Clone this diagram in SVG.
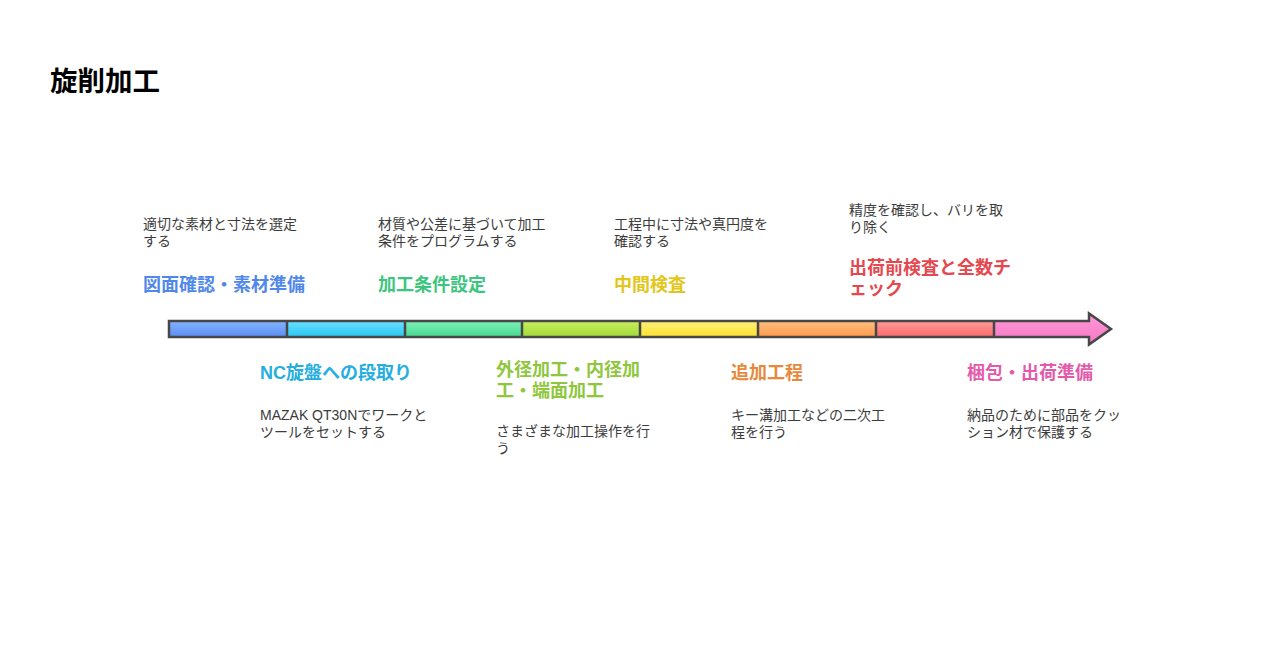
<svg xmlns="http://www.w3.org/2000/svg" width="1280" height="648" viewBox="0 0 1280 648">
<defs>
<linearGradient id="gBlue" x1="0" y1="0" x2="0" y2="1"><stop offset="0" stop-color="#86b3ff"/><stop offset="1" stop-color="#5a8ef5"/></linearGradient>
<linearGradient id="gCyan" x1="0" y1="0" x2="0" y2="1"><stop offset="0" stop-color="#6ae0ff"/><stop offset="1" stop-color="#28c6f2"/></linearGradient>
<linearGradient id="gGreen" x1="0" y1="0" x2="0" y2="1"><stop offset="0" stop-color="#7ef0b8"/><stop offset="1" stop-color="#45d98f"/></linearGradient>
<linearGradient id="gLime" x1="0" y1="0" x2="0" y2="1"><stop offset="0" stop-color="#c8ee5e"/><stop offset="1" stop-color="#a2d93a"/></linearGradient>
<linearGradient id="gYellow" x1="0" y1="0" x2="0" y2="1"><stop offset="0" stop-color="#fff07a"/><stop offset="1" stop-color="#fde22e"/></linearGradient>
<linearGradient id="gOrange" x1="0" y1="0" x2="0" y2="1"><stop offset="0" stop-color="#ffbf80"/><stop offset="1" stop-color="#ff9a4a"/></linearGradient>
<linearGradient id="gRed" x1="0" y1="0" x2="0" y2="1"><stop offset="0" stop-color="#ff9a9a"/><stop offset="1" stop-color="#fb6b6b"/></linearGradient>
<linearGradient id="gPink" x1="0" y1="0" x2="0" y2="1"><stop offset="0" stop-color="#ff9ad8"/><stop offset="1" stop-color="#f477c4"/></linearGradient>
<style>
text{font-family:"Liberation Sans","Noto Sans CJK JP",sans-serif;}
.desc{font-size:14px;fill:#3c3c3c;}
.ttl{font-size:18px;font-weight:bold;}
.main{font-size:27.5px;font-weight:bold;fill:#000;}
.sep{stroke:#474747;stroke-width:2.5;}
</style>
</defs>
<rect width="1280" height="648" fill="#fff"/>
<text class="main" x="50" y="91">旋削加工</text>

<g id="connectors">
<rect x="169" y="321" width="118" height="16" fill="url(#gBlue)"/>
<rect x="287" y="321" width="118" height="16" fill="url(#gCyan)"/>
<rect x="405" y="321" width="117" height="16" fill="url(#gGreen)"/>
<rect x="522" y="321" width="118" height="16" fill="url(#gLime)"/>
<rect x="640" y="321" width="118" height="16" fill="url(#gYellow)"/>
<rect x="758" y="321" width="118" height="16" fill="url(#gOrange)"/>
<rect x="876" y="321" width="118" height="16" fill="url(#gRed)"/>
<path d="M994,321 H1089 V313.5 L1111,329 L1089,344.5 V337 H994 Z" fill="url(#gPink)"/>
<line class="sep" x1="287" y1="321" x2="287" y2="337"/>
<line class="sep" x1="405" y1="321" x2="405" y2="337"/>
<line class="sep" x1="522" y1="321" x2="522" y2="337"/>
<line class="sep" x1="640" y1="321" x2="640" y2="337"/>
<line class="sep" x1="758" y1="321" x2="758" y2="337"/>
<line class="sep" x1="876" y1="321" x2="876" y2="337"/>
<line class="sep" x1="994" y1="321" x2="994" y2="337"/>
<path d="M169,321 H1089 V313.5 L1111,329 L1089,344.5 V337 H169 Z" fill="none" stroke="#474747" stroke-width="2.5" stroke-linejoin="miter"/>
</g>

<g id="step1">
<text class="desc" x="143" y="229">適切な素材と寸法を選定<tspan x="143" y="246">する</tspan></text>
<text class="ttl" x="143" y="291" fill="#4f88ea">図面確認・素材準備</text>
</g>
<g id="step2">
<text class="ttl" x="260" y="379" fill="#27aee0">NC旋盤への段取り</text>
<text class="desc" x="260" y="420">MAZAK QT30Nでワークと<tspan x="260" y="437">ツールをセットする</tspan></text>
</g>
<g id="step3">
<text class="desc" x="378" y="229">材質や公差に基づいて加工<tspan x="378" y="246">条件をプログラムする</tspan></text>
<text class="ttl" x="378" y="291" fill="#3cc57e">加工条件設定</text>
</g>
<g id="step4">
<text class="ttl" x="496" y="376" fill="#8ec63c">外径加工・内径加<tspan x="496" y="397">工・端面加工</tspan></text>
<text class="desc" x="496" y="436">さまざまな加工操作を行<tspan x="496" y="453">う</tspan></text>
</g>
<g id="step5">
<text class="desc" x="614" y="229">工程中に寸法や真円度を<tspan x="614" y="246">確認する</tspan></text>
<text class="ttl" x="614" y="291" fill="#e3c61a">中間検査</text>
</g>
<g id="step6">
<text class="ttl" x="731" y="379" fill="#e8883a">追加工程</text>
<text class="desc" x="731" y="420">キー溝加工などの二次工<tspan x="731" y="437">程を行う</tspan></text>
</g>
<g id="step7">
<text class="desc" x="849" y="215">精度を確認し、バリを取<tspan x="849" y="232">り除く</tspan></text>
<text class="ttl" x="849" y="274" fill="#e5484f">出荷前検査と全数チ<tspan x="849" y="295">ェック</tspan></text>
</g>
<g id="step8">
<text class="ttl" x="967" y="379" fill="#e35aaa">梱包・出荷準備</text>
<text class="desc" x="967" y="420">納品のために部品をクッ<tspan x="967" y="437">ション材で保護する</tspan></text>
</g>
</svg>
